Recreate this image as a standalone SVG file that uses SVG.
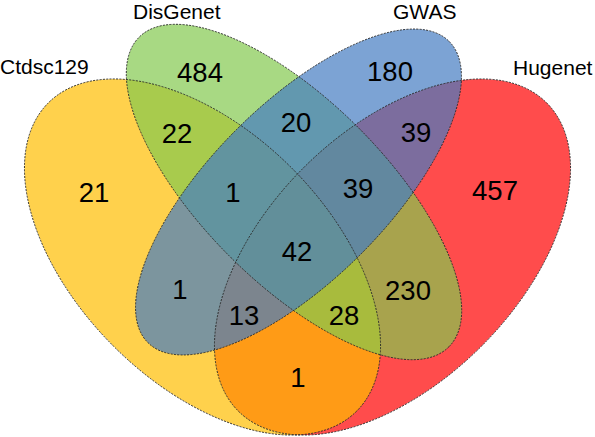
<svg xmlns="http://www.w3.org/2000/svg" width="595" height="437" viewBox="0 0 595 437">
<style>
.fill{stroke:none;fill-opacity:0.7}
.outline{fill:none;stroke:#2a2a2a;stroke-width:0.9;stroke-dasharray:2 1.3}
.cat{font-family:"Liberation Sans",Arial,sans-serif;font-size:21px;fill:#000}
.num{font-family:"Liberation Sans",Arial,sans-serif;font-size:27.5px;fill:#000;text-anchor:middle}
</style>
<defs>
<ellipse id="eY" cx="202.5" cy="257" rx="218" ry="126" transform="rotate(45 202.5 257)"/>
<ellipse id="eG" cx="294" cy="192" rx="219" ry="91" transform="rotate(45 294 192)"/>
<ellipse id="eB" cx="298.5" cy="192" rx="213" ry="88" transform="rotate(-45 298.5 192)"/>
<ellipse id="eR" cx="392.5" cy="257" rx="218" ry="126" transform="rotate(-45 392.5 257)"/>
</defs>
<g id="Hugenet">
<use href="#eR" class="fill" fill="#ff0000"/>
<text class="cat" x="513" y="75">Hugenet</text>
</g>
<g id="Ctdsc129">
<use href="#eY" class="fill" fill="#ffbe00"/>
<text class="cat" x="0" y="74">Ctdsc129</text>
</g>
<g id="DisGenet">
<use href="#eG" class="fill" fill="#83c94e"/>
<text class="cat" x="133" y="18.5">DisGenet</text>
</g>
<g id="GWAS">
<use href="#eB" class="fill" fill="#457cc2"/>
<text class="cat" x="393" y="19">GWAS</text>
</g>
<g id="connectors">
<use href="#eR" class="outline"/>
<use href="#eY" class="outline"/>
<use href="#eG" class="outline"/>
<use href="#eB" class="outline"/>
</g>
<g id="counts">
<text class="num" x="200" y="82">484</text>
<text class="num" x="390" y="81">180</text>
<text class="num" x="94" y="202">21</text>
<text class="num" x="495" y="200">457</text>
<text class="num" x="177" y="143">22</text>
<text class="num" x="296" y="132">20</text>
<text class="num" x="416" y="142">39</text>
<text class="num" x="233" y="202">1</text>
<text class="num" x="358" y="198">39</text>
<text class="num" x="297" y="261">42</text>
<text class="num" x="180" y="299">1</text>
<text class="num" x="408" y="300">230</text>
<text class="num" x="244" y="325">13</text>
<text class="num" x="344" y="325">28</text>
<text class="num" x="298" y="387">1</text>
</g>
</svg>
